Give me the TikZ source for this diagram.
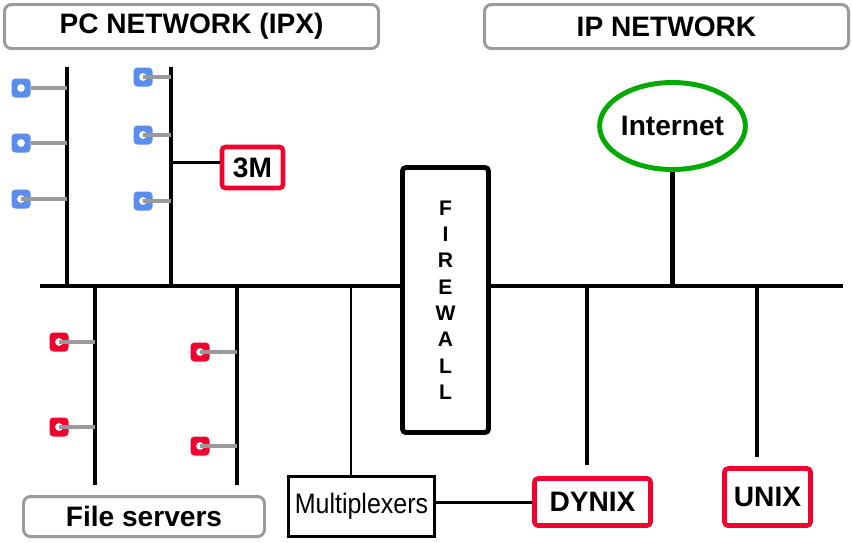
\documentclass[tikz,border=0pt]{standalone}
\usepackage{fontspec}
\setmainfont{Liberation Sans}
\newfontfamily\narrowfont[FakeStretch=0.89]{Liberation Sans}
\usetikzlibrary{shapes.geometric}
\definecolor{boxgray}{HTML}{9A9A9A}
\definecolor{pcblue}{HTML}{5B8DEF}
\definecolor{srvred}{HTML}{F2002E}
\definecolor{netgreen}{HTML}{00AA00}
\def\pu{0.02cm}
\tikzset{
  bus/.style={line width=2.8pt,black},
  tap/.style={line width=1.7pt,black},
  stub/.style={line width=2pt,boxgray},
  lbl/.style={font=\bfseries\fontsize{16}{19}\selectfont},
  titlebox/.style={draw=boxgray,line width=1.7pt,rounded corners=4pt,lbl,inner sep=0pt},
  hostbox/.style={draw=srvred,line width=2.6pt,rounded corners=2pt,lbl,inner sep=0pt},
  dev/.style={rectangle,rounded corners=2.2pt,minimum size=19*\pu,inner sep=0pt,
    path picture={\fill[white] ([shift={(-2.2pt,-2.2pt)}]path picture bounding box.center) rectangle ++(4.4pt,4.4pt);}}
}
\begin{document}
\begin{tikzpicture}[x=0.02cm,y=-0.02cm]
\useasboundingbox (0,0) rectangle (852,542);
% network titles
\node[titlebox,minimum width=374*\pu,minimum height=44*\pu] (pcnet) at (191.5,26.5) {PC NETWORK (IPX)};
\node[titlebox,minimum width=364*\pu,minimum height=44*\pu] (ipnet) at (666.5,26.5) {IP NETWORK};
% firewall and backbone
\node[draw,line width=2.8pt,rounded corners=2pt,minimum width=86*\pu,minimum height=265*\pu,align=center,
  font=\bfseries\fontsize{12}{15}\selectfont] (fw) at (445.5,300) {F\\I\\R\\E\\W\\A\\L\\L};
\coordinate (busL) at (40,286);
\coordinate (busR) at (843,286);
\draw[bus] (busL) -- (busL -| fw.west);
\draw[bus] (fw.east |- busR) -- (busR);
% PC segments
\foreach \nm/\bx/\by in {segA/67/67,segB/171/67,segC/95/485,segD/237/485}{
  \coordinate (\nm) at (\bx,\by);
  \draw[bus] (\nm) -- (\nm |- busL);
}
% workstations and servers
\foreach \nm/\dx/\dy/\seg/\col/\st in {wa/21/88/segA/pcblue/east,wb/21/143/segA/pcblue/east,wc/21/199/segA/pcblue/center,
  wd/143/77/segB/pcblue/center,we/143/135/segB/pcblue/center,wf/143/201/segB/pcblue/center,
  sa/59/342/segC/srvred/center,sb/59/427/segC/srvred/center,sc/200/352/segD/srvred/center,sd/200/446/segD/srvred/center}{
  \node[dev,fill=\col] (\nm) at (\dx,\dy) {};
  \draw[stub] (\nm.\st) -- (\nm.\st -| \seg);
}
\node[hostbox,minimum width=61*\pu,minimum height=41*\pu] (threem) at (252.5,167.5) {3M};
\coordinate (segBm) at (171,162);
\draw[tap] (segBm) -- (segBm -| threem.west);
\node[titlebox,minimum width=241*\pu,minimum height=40*\pu] (fsrv) at (144,516.5) {File servers};
% IP side
\node[ellipse,draw=netgreen,line width=2.8pt,minimum width=124*\pu,minimum height=87*\pu,inner sep=0pt,lbl] (inet) at (672.5,126) {Internet};
\draw[bus] (inet.south) -- (inet.south |- busR);
\node[draw,line width=1.7pt,minimum width=146*\pu,minimum height=60*\pu,inner sep=0pt,
  font=\narrowfont\fontsize{16}{19}\selectfont] (mux) at (361.5,506.5) {Multiplexers};
\coordinate (muxtap) at (351,286);
\draw[tap] (muxtap) -- (muxtap |- mux.north);
\node[hostbox,minimum width=116*\pu,minimum height=47*\pu] (dynix) at (592.5,502) {DYNIX};
\draw[tap] (mux.east |- dynix.west) -- (dynix.west);
\coordinate (dyend) at (587,465);
\draw[bus] (dyend |- busR) -- (dyend);
\node[hostbox,minimum width=86*\pu,minimum height=57*\pu] (unix) at (767.5,497) {UNIX};
\coordinate (uxend) at (757,457);
\draw[bus] (uxend |- busR) -- (uxend);
\end{tikzpicture}
\end{document}
